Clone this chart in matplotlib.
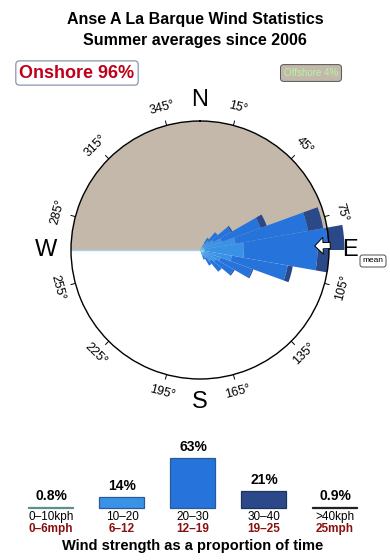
import numpy as np
import matplotlib
matplotlib.use("Agg")
import matplotlib.pyplot as plt

plt.rcParams['font.family'] = ['Liberation Sans', 'DejaVu Sans']

# === DATA ===
TITLE = "Anse A La Barque Wind Statistics\nSummer averages since 2006"
onshore_pct = 96
offshore_pct = 4
mean_dir = 88

# petal directions (deg, compass) and stacked lengths per speed class
directions = [35, 45, 55, 65, 75, 85, 95, 105, 115, 125, 135, 145, 155]
spd_0_10 = [0.02, 0.03, 0.03, 0.03, 0.03, 0.04, 0.04, 0.03, 0.03, 0.03, 0.03, 0.02, 0.02]
spd_10_20 = [0.04, 0.06, 0.09, 0.15, 0.25, 0.30, 0.30, 0.22, 0.14, 0.11, 0.08, 0.05, 0.03]
spd_20_30 = [0.05, 0.09, 0.16, 0.32, 0.57, 0.65, 0.57, 0.44, 0.26, 0.16, 0.11, 0.07, 0.03]
spd_30_40 = [0.00, 0.00, 0.01, 0.05, 0.12, 0.13, 0.09, 0.04, 0.01, 0.01, 0.00, 0.00, 0.00]

compass_labels = ["N", "E", "S", "W"]
compass_angles = [0, 90, 180, 270]
degree_ticks = [15, 45, 75, 105, 135, 165, 195, 225, 255, 285, 315, 345]

speed_kph = ["0\u201310kph", "10\u201320", "20\u201330", "30\u201340", ">40kph"]
speed_mph = ["0\u20136mph", "6\u201312", "12\u201319", "19\u201325", "25mph"]
speed_pct = [0.8, 14, 63, 21, 0.9]
speed_pct_txt = ["0.8%", "14%", "63%", "21%", "0.9%"]

# === STYLE ===
class_colors = ['#45c8e6', '#3a92e6', '#2673dc', '#2b4888', '#1a1a1a']
bar_edges = ['#5a9090', '#2a5a9a', '#2a5a9a', '#1f3360', '#222222']
offshore_col = '#c4b8ab'
red_txt = '#8a1010'

fig = plt.figure(figsize=(3.9, 5.6), dpi=100)
fig.patch.set_facecolor('white')

fig.text(0.5, 1 - 30 / 560, TITLE, ha='center', va='center', fontsize=11.5,
         fontweight='bold', linespacing=1.45)

fig.text(77 / 390, 1 - 73 / 560, f"Onshore {onshore_pct}%", ha='center', va='center',
         fontsize=13, fontweight='bold', color='#c0001a',
         bbox=dict(boxstyle='round,pad=0.2', fc='white', ec='#7a88a8', lw=0.8))
fig.text(311 / 390, 1 - 73 / 560, f"Offshore {offshore_pct}%", ha='center', va='center',
         fontsize=7, color='#b4f5a6',
         bbox=dict(boxstyle='round,pad=0.35', fc=offshore_col, ec='#555555', lw=0.7))
fig.text(373 / 390, 1 - 261 / 560, "mean", ha='center', va='center', fontsize=6,
         bbox=dict(boxstyle='round,pad=0.3', fc='white', ec='#333333', lw=0.6))

# === ROSE ===
cx, cy, rad = 200, 250, 129
ax = fig.add_axes([(cx - rad) / 390, (560 - cy - rad) / 560, 2 * rad / 390, 2 * rad / 560],
                  projection='polar')
ax.set_theta_zero_location('N')
ax.set_theta_direction(-1)
ax.set_ylim(0, 1)
ax.set_xticks([])
ax.set_yticks([])
ax.grid(False)
ax.spines['polar'].set_linewidth(1.0)

# offshore half (W -> N -> E)
ax.bar(0, 1, width=np.pi, bottom=0, color=offshore_col, zorder=1)
ax.plot([np.deg2rad(270)] * 2, [0, 1], color='#a8d0ec', lw=1, zorder=1.5)

theta = np.deg2rad(directions)
w = np.deg2rad(10)
bottom = np.zeros(len(directions))
for vals, col in zip([spd_0_10, spd_10_20, spd_20_30, spd_30_40], class_colors):
    ax.bar(theta, vals, width=w, bottom=bottom, color=col, edgecolor='none',
           zorder=2, clip_on=False)
    bottom += np.array(vals)

for a in degree_ticks:
    t = np.deg2rad(a)
    ax.plot([t, t], [1.0, 1.035], color='black', lw=0.7, clip_on=False)
    rot = -a if (a <= 90 or a >= 270) else 180 - a
    ax.text(t, 1.14, f"{a}\u00b0", rotation=rot, ha='center', va='center',
            fontsize=9, rotation_mode='anchor', clip_on=False)

label_r = [1.16, 1.16, 1.18, 1.19]
for lab, a, r in zip(compass_labels, compass_angles, label_r):
    ax.text(np.deg2rad(a), r, lab, ha='center', va='center', fontsize=17, clip_on=False)

ax.annotate('', xy=(np.deg2rad(mean_dir), 0.89), xytext=(np.deg2rad(mean_dir), 1.01),
            arrowprops=dict(arrowstyle='simple,head_length=0.6,head_width=1.2,tail_width=0.45',
                            fc='white', ec='black', lw=0.7, mutation_scale=10,
                            shrinkA=0, shrinkB=0),
            zorder=5, annotation_clip=False)

# === SPEED BARS ===
x0, dx, base, top63 = 51, 71, 508, 458
ax2 = fig.add_axes([0, (560 - base) / 560, 1, (base - top63) / 560])
xs = np.arange(len(speed_pct))
ax2.set_xlim(-x0 / dx, (390 - x0) / dx)
ax2.set_ylim(0, 63)
ax2.axis('off')
ax2.bar(xs, speed_pct, width=45 / dx, color=class_colors, edgecolor=bar_edges, lw=0.9,
        clip_on=False)
for x, v, t in zip(xs, speed_pct, speed_pct_txt):
    ax2.annotate(t, (x, v), xytext=(0, 3), textcoords='offset points', ha='center',
                 va='bottom', fontsize=10, fontweight='bold', annotation_clip=False)
    ax2.annotate(speed_kph[x], (x, 0), xytext=(0, -2.5), textcoords='offset points',
                 ha='center', va='top', fontsize=8.5, annotation_clip=False)
    ax2.annotate(speed_mph[x], (x, 0), xytext=(0, -11), textcoords='offset points',
                 ha='center', va='top', fontsize=8.5, fontweight='bold', color=red_txt,
                 annotation_clip=False)

fig.text(193 / 390, 1 - 546 / 560, "Wind strength as a proportion of time", ha='center',
         va='center', fontsize=10.5, fontweight='bold')

fig.savefig("out.png", dpi=100)
